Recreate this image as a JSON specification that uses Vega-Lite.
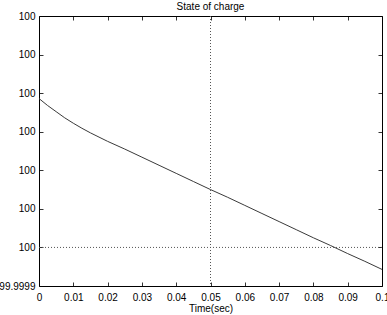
{
  "$schema": "https://vega.github.io/schema/vega-lite/v6.json",
  "autosize": "none",
  "width": 343,
  "height": 270,
  "padding": {"left": 39, "top": 16, "right": 5, "bottom": 29},
  "background": "white",
  "title": {"text": "State of charge", "fontSize": 10, "font": "Liberation Sans", "fontWeight": "normal", "color": "black", "offset": 4, "dy": 5, "anchor": "middle"},
  "config": {
    "view": {"stroke": null},
    "axis": {"grid": false, "domainColor": "black", "tickColor": "black", "labelColor": "black", "titleColor": "black", "labelFont": "Liberation Sans", "titleFont": "Liberation Sans", "labelFontSize": 10, "titleFontSize": 10, "titleFontWeight": "normal", "tickSize": -4, "domainWidth": 1, "tickWidth": 0.8}
  },
  "datasets": {
    "soc": [
      {"t": 0, "soc": 4.86}, {"t": 0.0025, "soc": 4.68}, {"t": 0.005, "soc": 4.52}, {"t": 0.0075, "soc": 4.36},
      {"t": 0.01, "soc": 4.22}, {"t": 0.0125, "soc": 4.09}, {"t": 0.015, "soc": 3.97}, {"t": 0.0175, "soc": 3.86},
      {"t": 0.02, "soc": 3.75}, {"t": 0.025, "soc": 3.55}, {"t": 0.03, "soc": 3.34}, {"t": 0.035, "soc": 3.13},
      {"t": 0.04, "soc": 2.92}, {"t": 0.045, "soc": 2.71}, {"t": 0.05, "soc": 2.5}, {"t": 0.055, "soc": 2.3},
      {"t": 0.06, "soc": 2.09}, {"t": 0.065, "soc": 1.88}, {"t": 0.07, "soc": 1.67}, {"t": 0.075, "soc": 1.46},
      {"t": 0.08, "soc": 1.25}, {"t": 0.085, "soc": 1.05}, {"t": 0.09, "soc": 0.84}, {"t": 0.095, "soc": 0.64},
      {"t": 0.1, "soc": 0.43}
    ],
    "refx": [{"t": 0.05}],
    "refy": [{"soc": 1}]
  },
  "layer": [
    {
      "data": {"name": "soc"},
      "mark": {"type": "line", "color": "#3a3a3a", "strokeWidth": 1},
      "encoding": {
        "x": {"field": "t", "type": "quantitative", "scale": {"domain": [0, 0.1], "nice": false, "zero": false},
              "axis": {"orient": "bottom", "title": "Time(sec)", "titlePadding": 1, "labelPadding": 10, "values": [0,0.01,0.02,0.03,0.04,0.05,0.06,0.07,0.08,0.09,0.1], "format": ".2~f", "labelFlush": false}},
        "y": {"field": "soc", "type": "quantitative", "scale": {"domain": [0, 7], "nice": false, "zero": false},
              "axis": {"orient": "left", "title": null, "labelPadding": 8, "values": [0,1,2,3,4,5,6,7], "labelExpr": "datum.value == 0 ? '99.9999' : '100'", "labelFlush": false}}
      }
    },
    {
      "data": {"name": "refx"},
      "mark": {"type": "rule", "color": "#555555", "strokeDash": [1, 2], "strokeWidth": 1},
      "encoding": {
        "x": {"field": "t", "type": "quantitative", "axis": {"orient": "top", "title": null, "labels": false, "values": [0,0.01,0.02,0.03,0.04,0.05,0.06,0.07,0.08,0.09,0.1]}}
      }
    },
    {
      "data": {"name": "refy"},
      "mark": {"type": "rule", "color": "#555555", "strokeDash": [1, 2], "strokeWidth": 1},
      "encoding": {
        "y": {"field": "soc", "type": "quantitative", "axis": {"orient": "right", "title": null, "labels": false, "values": [0,1,2,3,4,5,6,7]}}
      }
    }
  ],
  "resolve": {"axis": {"x": "independent", "y": "independent"}}
}
